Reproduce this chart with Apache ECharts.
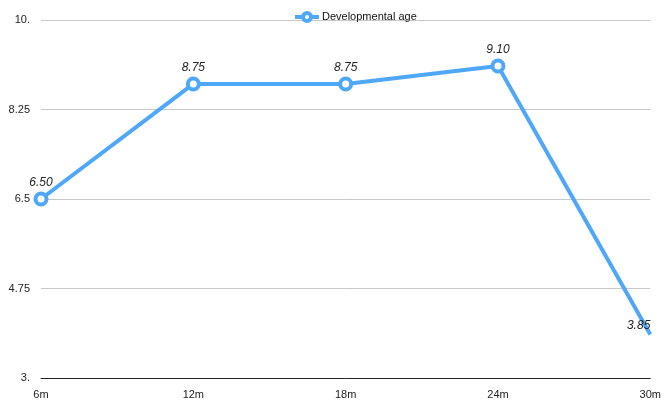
<!DOCTYPE html>
<html><head><meta charset="utf-8">
<script src="https://cdn.jsdelivr.net/npm/echarts@6/dist/echarts.min.js"></script>
<style>html,body{margin:0;padding:0;background:#fff}#c{width:664px;height:401px}</style>
</head><body><div id="c"></div>
<script>
const categories = ['6m','12m','18m','24m','30m'];
const seriesName = 'Developmental age';
const values = [6.50, 8.75, 8.75, 9.10, 3.85];
const yTicks = [3, 4.75, 6.5, 8.25, 10];
const yTickLabels = ['3.', '4.75', '6.5', '8.25', '10.'];

const chart = echarts.init(document.getElementById('c'));
const font = 'Liberation Sans, Arial, Helvetica, sans-serif';
const color = '#4fa8f7';
chart.setOption({
  animation: false,
  textStyle: { fontFamily: font },
  legend: {
    top: 6, left: 288, itemGap: 4, z: 20,
    itemWidth: 24, itemHeight: 10,
    textStyle: { fontFamily: font, fontSize: 11, color: '#111', padding: [0,0,0,-2] },
    itemStyle: { color: '#fff', borderColor: color, borderWidth: 4 },
    lineStyle: { color: color, width: 4, opacity: 1 },
    data: [seriesName]
  },
  grid: { left: 41, right: 13, top: 20, bottom: 23, containLabel: false },
  xAxis: {
    type: 'category', data: categories, boundaryGap: false,
    axisLine: { lineStyle: { color: '#222', width: 1 } },
    axisTick: { show: false },
    axisLabel: { color: '#222', fontSize: 11, fontFamily: font, margin: 11 }
  },
  yAxis: {
    type: 'value', min: 3, max: 10,
    axisLine: { show: false }, axisTick: { show: false },
    axisLabel: {
      customValues: yTicks,
      color: '#222', fontSize: 11, fontFamily: font, margin: 11,
      formatter: v => { const i = yTicks.findIndex(t => Math.abs(t - v) < 1e-6); return i >= 0 ? yTickLabels[i] : ''; }
    },
    splitLine: { show: false }
  },
  series: [{
    name: seriesName, type: 'line',
    data: values.map((v, i) => i === values.length - 1 ? {
      value: v, symbolSize: 0,
      label: { show: true, position: 'top', distance: 3, align: 'right', offset: [10, -2] }
    } : v),
    color: color,
    lineStyle: { color: color, width: 4 },
    symbol: 'circle', symbolSize: 11,
    itemStyle: { color: '#fff', borderWidth: 4, borderColor: color },
    label: {
      show: true, position: 'top', distance: 3,
      fontStyle: 'italic', fontSize: 12, color: '#222', fontFamily: font,
      formatter: p => p.value.toFixed(2)
    },
    labelLayout: { hideOverlap: false },
    markLine: {
      silent: true, symbol: 'none', label: { show: false }, z: 1,
      lineStyle: { color: '#c8c8c8', width: 1, type: 'solid' },
      data: yTicks.slice(1).map(t => ({ yAxis: t }))
    },
    z: 3
  }]
});
</script></body></html>
